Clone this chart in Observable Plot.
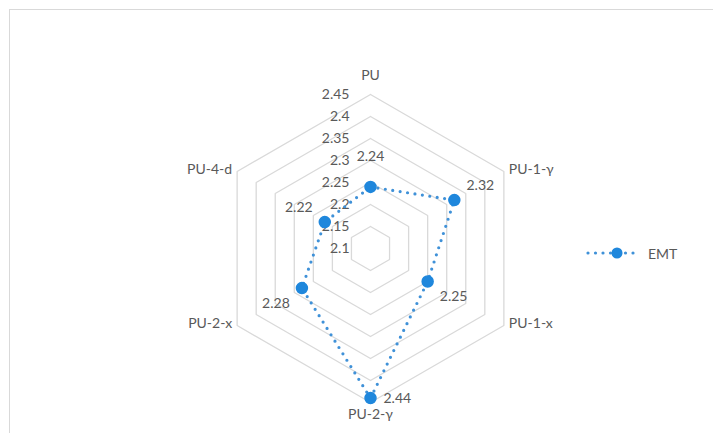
<!DOCTYPE html>
<html>
<head>
<meta charset="utf-8">
<script src="https://cdn.jsdelivr.net/npm/d3@7"></script>
<script src="https://cdn.jsdelivr.net/npm/@observablehq/plot@0.6"></script>
<style>
  html, body { margin: 0; padding: 0; background: #fff; overflow: hidden; }
  #wrap { position: relative; width: 713px; height: 433px; }
  #frame { position: absolute; left: 9px; top: 9px; width: 720px; height: 440px;
           border: 1px solid #d9d9d9; box-sizing: border-box; pointer-events: none; }
  #legend { position: absolute; left: 584px; top: 243px; display: flex; align-items: center;
            font-family: Lato, "Open Sans", sans-serif; font-size: 14px; color: #595959; }
</style>
</head>
<body>
<div id="wrap">
  <div id="frame"></div>
  <div id="chart"></div>
  <div id="legend"></div>
</div>
<script>
// Radar categories, clockwise from the top
const categories = ["PU", "PU-1-γ", "PU-1-x", "PU-2-γ", "PU-2-x", "PU-4-d"];
// EMT series
const seriesName = "EMT";
const emtValues = [2.24, 2.32, 2.25, 2.44, 2.28, 2.22];
// Radial axis ticks
const tickValues = [2.1, 2.15, 2.2, 2.25, 2.3, 2.35, 2.4, 2.45];
const tickLabels = ["2.1", "2.15", "2.2", "2.25", "2.3", "2.35", "2.4", "2.45"];

const W = 713, H = 433;
const cx = 370, cy = 248;          // pixel centre of the radar
const pxPerUnit = 440;             // 0.05 per ring step = 22px
const rMin = tickValues[0];
const rMax = tickValues[tickValues.length - 1];

const n = categories.length;
const angle = i => (i * 2 * Math.PI) / n;
const polar = (i, v) => {
  const r = v - rMin;
  return { x: r * Math.sin(angle(i)), y: r * Math.cos(angle(i)) };
};

// Hexagonal grid rings (closed)
const rings = [];
tickValues.filter(t => t > rMin).forEach(t => {
  for (let k = 0; k <= n; k++) rings.push({ ring: t, ...polar(k % n, t) });
});

// Series points and closed outline
const pts = emtValues.map((v, i) => ({ cat: categories[i], value: v, i, ...polar(i, v) }));
const outline = [...pts, pts[0]];

// Value label positions: nudged outward along each spoke
const nudge = 30 / pxPerUnit;
const valueLabels = pts.map(p => {
  const a = angle(p.i);
  return { ...p, lx: p.x + nudge * Math.sin(a), ly: p.y + nudge * Math.cos(a) };
});
const isBottom = i => Math.abs(angle(i) - Math.PI) < 1e-6;

// Category labels at the outer ring vertices
const catPos = categories.map((c, i) => ({ cat: c, i, ...polar(i, rMax) }));
const side = i => {
  const s = Math.sin(angle(i));
  if (Math.abs(s) < 1e-6) return Math.cos(angle(i)) > 0 ? "top" : "bottom";
  return s > 0 ? "right" : "left";
};

const ticks = tickValues.map((t, k) => ({ y: t - rMin, label: tickLabels[k] }));

const lineColor = "#3f91d8";
const markColor = "#1f87dc";

const chart = Plot.plot({
  width: W,
  height: H,
  margin: 0,
  x: { domain: [-cx / pxPerUnit, (W - cx) / pxPerUnit], axis: null },
  y: { domain: [-(H - cy) / pxPerUnit, cy / pxPerUnit], axis: null },
  style: { fontFamily: "Lato, 'Open Sans', sans-serif", fontSize: "14px", color: "#595959", background: "transparent" },
  marks: [
    Plot.line(rings, { x: "x", y: "y", z: "ring", stroke: "#d9d9d9", strokeWidth: 1.3 }),
    Plot.text(ticks, { x: 0, y: "y", text: "label", textAnchor: "end", dx: -21, lineAnchor: "middle" }),
    Plot.line(outline, { x: "x", y: "y", stroke: lineColor, strokeWidth: 3.2,
                         strokeDasharray: "0 7.5", strokeLinecap: "round" }),
    Plot.dot(pts, { x: "x", y: "y", r: 5.5, fill: markColor, stroke: markColor }),
    Plot.text(valueLabels.filter(d => !isBottom(d.i)), { x: "lx", y: "ly", text: d => String(d.value), lineAnchor: "middle" }),
    Plot.text(valueLabels.filter(d => isBottom(d.i)), { x: "x", y: "y", text: d => String(d.value), textAnchor: "start", dx: 13, lineAnchor: "middle" }),
    Plot.text(catPos.filter(d => side(d.i) === "top"), { x: "x", y: "y", text: "cat", dy: -19, lineAnchor: "middle" }),
    Plot.text(catPos.filter(d => side(d.i) === "bottom"), { x: "x", y: "y", text: "cat", dy: 12, lineAnchor: "middle" }),
    Plot.text(catPos.filter(d => side(d.i) === "right"), { x: "x", y: "y", text: "cat", textAnchor: "start", dx: 5, dy: -2, lineAnchor: "middle" }),
    Plot.text(catPos.filter(d => side(d.i) === "left"), { x: "x", y: "y", text: "cat", textAnchor: "end", dx: -5, dy: -2, lineAnchor: "middle" })
  ]
});
document.getElementById("chart").appendChild(chart);

// Legend
const legend = document.getElementById("legend");
legend.innerHTML =
  `<svg width="58" height="20" style="display:block">
     <line x1="4" y1="10" x2="54" y2="10" stroke="${lineColor}" stroke-width="3.2" stroke-dasharray="0 7.5" stroke-linecap="round"/>
     <circle cx="33" cy="10" r="5.5" fill="${markColor}"/>
   </svg><span style="margin-left:6px">${seriesName}</span>`;
</script>
</body>
</html>
